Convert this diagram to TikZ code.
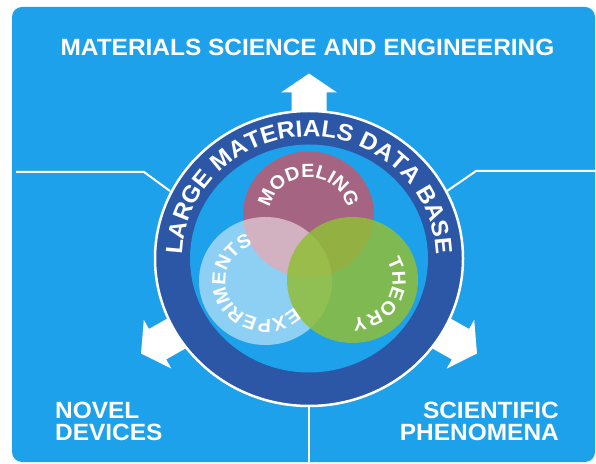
\documentclass[tikz,border=0pt]{standalone}
\usepackage{fontspec}
\setmainfont[FakeStretch=1.04]{Liberation Sans}
\usetikzlibrary{decorations.text,calc}

\definecolor{bgblue}{RGB}{29,161,234}
\definecolor{ringblue}{RGB}{43,87,166}
\definecolor{modelcol}{RGB}{165,100,130}
\definecolor{theorycol}{RGB}{145,190,55}

\newcommand{\headfont}{\bfseries\fontsize{23.5}{22}\selectfont}
\newcommand{\ringfont}{\bfseries\fontsize{23.5}{23}\selectfont}
\newcommand{\vennfont}{\bfseries\fontsize{19}{19}\selectfont}

\begin{document}
\begin{tikzpicture}[x=1pt,y=1pt,
  caption/.style={text=white, font=\headfont, inner sep=0pt},
  wireline/.style={white, line width=2pt},
  ringtext/.style={decorate, decoration={text along path, text color=white, text align=center, text={|\ringfont|#1}}},
  venntext/.style={decorate, decoration={text along path, text color=white, text align=center, text={|\vennfont|#1}}}]

\useasboundingbox (0,0) rectangle (596,463);
\fill[white] (0,0) rectangle (596,463);
\fill[bgblue, rounded corners=10pt] (12,1) rectangle (595,456);

\coordinate (ctr) at (309,204.5);

% thin white lines
\coordinate (lfar) at (16,291);
\coordinate (lknee) at (144,291);
\coordinate (lring) at (170,272);
\coordinate (rfar) at (596,292);
\coordinate (rknee) at (476,292);
\coordinate (rring) at (447,272);
\coordinate (bring) at (309,60);
\coordinate (bfar) at (309,1);
\draw[wireline] (lfar) -- (lknee) -- (lring);
\draw[wireline] (rfar) -- (rknee) -- (rring);
\draw[wireline] (bring) -- (bfar);

% arrows out of the ring
\foreach \ang/\tip in {90/185, 209.5/193, -29.5/193} {
  \begin{scope}[shift={(ctr)}, rotate=\ang]
    \fill[white] (130,-17.5) -- (\tip-19,-17.5) -- (\tip-19,-28) -- (\tip,0)
      -- (\tip-19,28) -- (\tip-19,17.5) -- (130,17.5) -- cycle;
  \end{scope}
}

% the ring
\fill[ringblue, draw=white, line width=2.5pt] (ctr) ellipse[x radius=154, y radius=147.5];
\fill[bgblue] (ctr) ellipse[x radius=119, y radius=114];

% three circles
\coordinate (mod) at (308.5,248.5);
\coordinate (exp) at (265.5,182);
\coordinate (the) at (352.5,183);
\fill[modelcol] (mod) ellipse[x radius=65.5, y radius=63];
\fill[white, opacity=0.5] (exp) ellipse[x radius=66.5, y radius=64];
\fill[theorycol, opacity=0.85] (the) ellipse[x radius=65.5, y radius=63];

\path[venntext=MODELING] ($(mod)+(170:39 and 37)$) arc[start angle=170, end angle=10, x radius=39, y radius=37];
\path[venntext=EXPERIMENTS] ($(exp)+(-30:40 and 38)$) arc[start angle=-30, end angle=-265, x radius=40, y radius=38];
\path[venntext=THEORY] ($(the)+(30:40 and 38)$) arc[start angle=30, end angle=-89, x radius=40, y radius=38];

\path[ringtext=LARGE MATERIALS DATA BASE] ($(ctr)+(180:127 and 122)$) arc[start angle=180, end angle=0, x radius=127, y radius=122];

% captions
\node[caption, anchor=base] (mse) at (307.5,407) {MATERIALS SCIENCE AND ENGINEERING};
\node[caption, anchor=north west, align=left] (novel) at (55,61) {NOVEL\\DEVICES};
\node[caption, anchor=north east, align=right] (sci) at (559,61) {SCIENTIFIC\\PHENOMENA};

\end{tikzpicture}
\end{document}
